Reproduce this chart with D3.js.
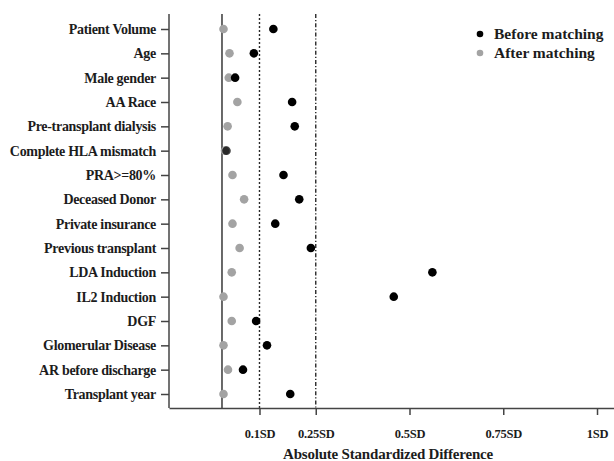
<!DOCTYPE html>
<html>
<head>
<meta charset="utf-8">
<script src="https://cdn.jsdelivr.net/npm/d3@7"></script>
<style>
  html, body { margin: 0; padding: 0; background: #fff; }
  svg { display: block; }
  text { font-family: "Liberation Serif", "Times New Roman", serif; font-weight: bold; fill: #1c1c1c; }
</style>
</head>
<body>
<svg id="chart" width="614" height="461"></svg>
<script>
const categories = [
  "Patient Volume", "Age", "Male gender", "AA Race", "Pre-transplant dialysis",
  "Complete HLA mismatch", "PRA>=80%", "Deceased Donor", "Private insurance",
  "Previous transplant", "LDA Induction", "IL2 Induction", "DGF",
  "Glomerular Disease", "AR before discharge", "Transplant year"
];
const beforeMatching = [0.137, 0.085, 0.035, 0.187, 0.194, 0.012, 0.164, 0.206, 0.142,
  0.237, 0.561, 0.458, 0.091, 0.120, 0.056, 0.182];
const afterMatching = [0.004, 0.020, 0.018, 0.041, 0.015, 0.008, 0.028, 0.059, 0.028,
  0.047, 0.026, 0.004, 0.026, 0.004, 0.016, 0.004];
const tickValues = [0.1, 0.25, 0.5, 0.75, 1];
const tickLabels = ["0.1SD", "0.25SD", "0.5SD", "0.75SD", "1SD"];
const seriesNames = ["Before matching", "After matching"];

const svg = d3.select("#chart");
const mLeft = 169, mRight = 614, mTop = 14, mBottom = 408;

const x = d3.scaleLinear().domain([-0.1413, 1.0453]).range([mLeft, mRight]);
const y = d3.scalePoint().domain(categories).range([29, 394]);

// reference lines
const refLines = [
  { v: 0, dash: null },
  { v: 0.1, dash: "2,2" },
  { v: 0.25, dash: "4,2,1.2,2" }
];
svg.selectAll(".ref").data(refLines).enter().append("line")
  .attr("x1", d => x(d.v)).attr("x2", d => x(d.v))
  .attr("y1", mTop).attr("y2", mBottom)
  .attr("stroke", "#2a2a2a").attr("stroke-width", 1.4)
  .attr("stroke-dasharray", d => d.dash);

// x axis
const xAxis = d3.axisBottom(x).tickValues(tickValues)
  .tickFormat((d, i) => tickLabels[i]).tickSize(7).tickSizeOuter(0).tickPadding(14);
const gx = svg.append("g").attr("transform", `translate(0,${mBottom})`).call(xAxis);
gx.select(".domain").attr("stroke", "#444").attr("stroke-width", 1.5);
gx.selectAll(".tick line").attr("stroke", "#444").attr("stroke-width", 1.5);
gx.selectAll(".tick text").attr("font-size", 12.5).attr("font-family", "Liberation Serif")
  .attr("font-weight", "bold").attr("fill", "#1c1c1c").attr("letter-spacing", "-0.2px");

// y axis
const yAxis = d3.axisLeft(y).tickSize(8).tickSizeOuter(0).tickPadding(5);
const gy = svg.append("g").attr("transform", `translate(${mLeft},0)`).call(yAxis);
gy.select(".domain").attr("d", `M0,${mTop}V${mBottom}`).attr("stroke", "#444").attr("stroke-width", 1.5);
gy.selectAll(".tick line").attr("stroke", "#444").attr("stroke-width", 1.5);
gy.selectAll(".tick text").attr("font-size", 14).attr("font-family", "Liberation Serif")
  .attr("font-weight", "bold").attr("fill", "#1c1c1c").attr("letter-spacing", "-0.3px");

// axis title
svg.append("text").attr("x", 388).attr("y", 459).attr("text-anchor", "middle")
  .attr("font-size", 15).attr("letter-spacing", "-0.2px").text("Absolute Standardized Difference");

// points
const colors = ["#000000", "#a3a3a3"];
svg.append("g").selectAll("circle").data(afterMatching).enter().append("circle")
  .attr("cx", d => x(d)).attr("cy", (d, i) => y(categories[i])).attr("r", 4.3)
  .attr("fill", colors[1]);
svg.append("g").selectAll("circle").data(beforeMatching).enter().append("circle")
  .attr("cx", d => x(d)).attr("cy", (d, i) => y(categories[i])).attr("r", 4.3)
  .attr("fill", colors[0]).attr("fill-opacity", (d, i) => i === 5 ? 0.75 : 1);

// legend
const lg = svg.append("g").attr("transform", "translate(480,34)");
seriesNames.forEach((name, i) => {
  lg.append("circle").attr("cx", 0).attr("cy", i * 19).attr("r", 3.3).attr("fill", colors[i]);
  lg.append("text").attr("x", 14).attr("y", i * 19 + 5).attr("font-size", 15.5).text(name);
});
</script>
</body>
</html>
